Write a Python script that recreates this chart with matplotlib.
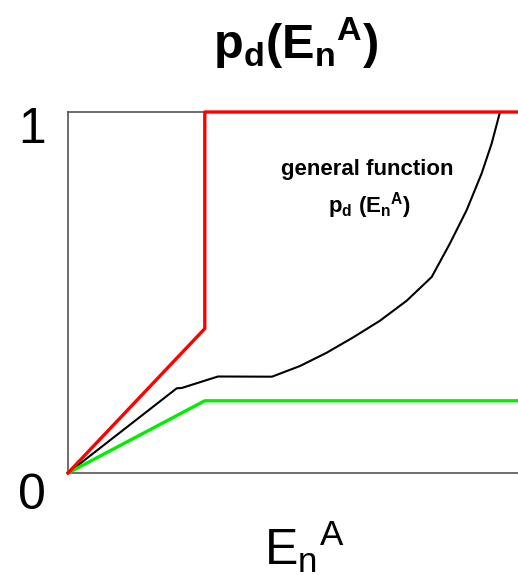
import matplotlib
matplotlib.use("Agg")
import matplotlib.pyplot as plt

plt.rcParams["font.family"] = ["Liberation Sans", "DejaVu Sans"]
plt.rcParams["mathtext.fontset"] = "custom"
plt.rcParams["mathtext.rm"] = "Liberation Sans"
plt.rcParams["mathtext.it"] = "Liberation Sans"
plt.rcParams["mathtext.bf"] = "Liberation Sans:bold"

# step-like upper bound (red)
red_x = [0.0, 0.304, 0.304, 1.0]
red_y = [0.0, 0.40, 1.0, 1.0]

# lower bound (green)
green_x = [0.0, 0.304, 1.0]
green_y = [0.0, 0.20, 0.20]

# general detection probability curve (black)
black_x = [0.0, 0.2416, 0.2527, 0.3333, 0.4533, 0.5156, 0.5749, 0.634,
           0.6933, 0.7527, 0.8082, 0.8489, 0.886, 0.9193, 0.9416, 0.96]
black_y = [0.0, 0.2346, 0.2355, 0.2673, 0.2668, 0.2964, 0.3332, 0.3759,
           0.4219, 0.4773, 0.543, 0.6363, 0.7285, 0.8302, 0.9133, 1.0]

fig = plt.figure(figsize=(5.18, 5.75), dpi=100)
ax = fig.add_axes([68 / 518, 102 / 575, 450 / 518, 361 / 575])

ax.plot(black_x, black_y, color="black", lw=1.5, clip_on=False, zorder=2)
ax.plot(green_x, green_y, color="#00ee00", lw=2.4, clip_on=False, zorder=3)
ax.plot(red_x, red_y, color="#ff0000", lw=2.4, clip_on=False, zorder=4)

ax.set_xlim(0, 1)
ax.set_ylim(0, 1)
ax.set_xticks([])
ax.set_yticks([])
ax.spines["right"].set_visible(False)
for s in ("left", "top", "bottom"):
    ax.spines[s].set_color("#555555")
    ax.spines[s].set_linewidth(1.2)

ax.text(-0.08, 0.95, "1", transform=ax.transAxes, fontsize=36,
        ha="center", va="center")
ax.text(-0.08, -0.064, "0", transform=ax.transAxes, fontsize=36,
        ha="center", va="center")

ax.text(0.665, 0.84, "general function", transform=ax.transAxes,
        fontsize=16, fontweight="bold", ha="center", va="center")
ax.text(0.67, 0.74, r"$\mathbf{p_d\ (E_n{}^A)}$", transform=ax.transAxes,
        fontsize=16, ha="center", va="center")

fig.text(296 / 518, 1 - 43 / 575, r"$\mathbf{p_d(E_n{}^A)}$",
         fontsize=35, ha="center", va="center")
fig.text(304 / 518, 1 - 547 / 575, r"$\mathrm{E_n{}^A}$",
         fontsize=36, ha="center", va="center")

fig.savefig("out.png", dpi=100)
